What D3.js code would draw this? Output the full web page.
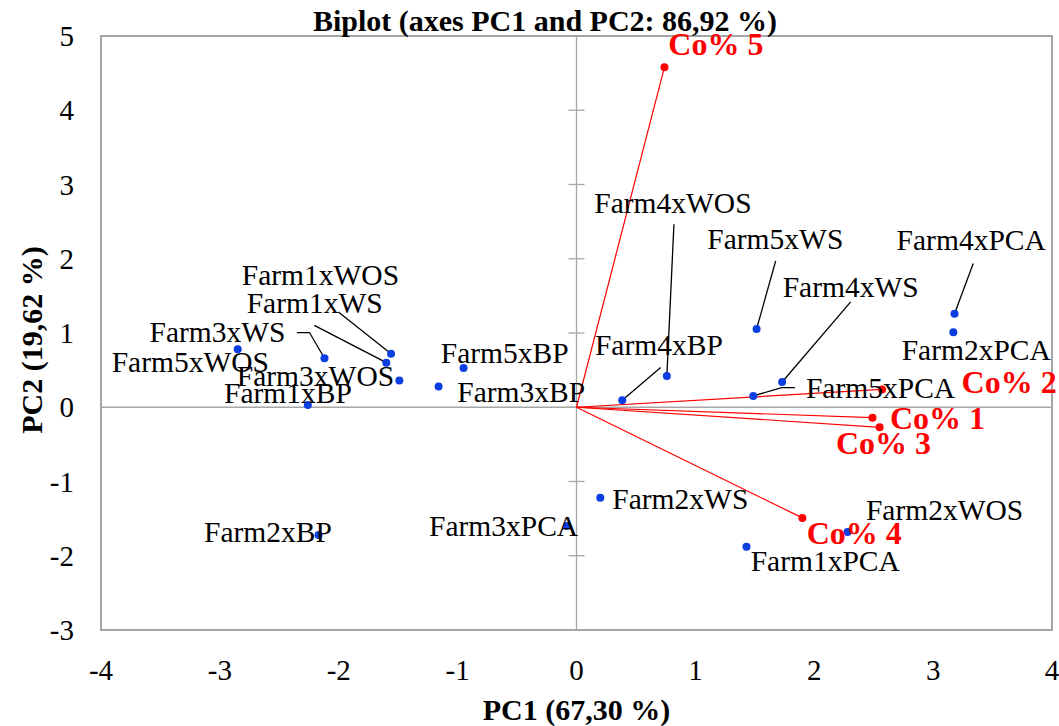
<!DOCTYPE html>
<html lang="en">
<head>
  <meta charset="UTF-8">
  <title>Biplot PC1 PC2</title>
  <script src="https://d3js.org/d3.v7.min.js"></script>
  <style>
    body { margin: 0; background: #fff; }
    svg { display: block; font-family: "Liberation Serif", "Times New Roman", serif; }
    .frame { fill: none; stroke: #a6a6a6; stroke-width: 2px; }
    .zero { stroke: #a6a6a6; stroke-width: 1.3px; }
    .tick-label { font-size: 29px; fill: #000; }
    .axis-title { font-size: 30px; font-weight: bold; fill: #000; }
    .title { font-size: 30px; font-weight: bold; fill: #000; }
    .obs-label { font-size: 29.5px; fill: #000; }
    .var-label { font-size: 32px; font-weight: bold; fill: #ff0000; }
    .leader { fill: none; stroke: #000; stroke-width: 1.3px; }
  </style>
</head>
<body>
  <svg width="1059" height="726"></svg>

  <script>
    // observaciones (scores)
    const obsNames = ["Farm5xWOS", "Farm3xWS", "Farm1xWOS", "Farm1xWS", "Farm3xWOS", "Farm1xBP",
                      "Farm3xBP", "Farm5xBP", "Farm2xBP", "Farm3xPCA", "Farm2xWS", "Farm4xBP",
                      "Farm4xWOS", "Farm5xWS", "Farm4xWS", "Farm5xPCA", "Farm4xPCA", "Farm2xPCA",
                      "Farm2xWOS", "Farm1xPCA"];
    const obsPC1 = [-2.85, -2.12, -1.56, -1.60, -1.49, -2.26, -1.16, -0.95, -2.17, -0.08, 0.20, 0.385,
                    0.76, 1.515, 1.73, 1.487, 3.18, 3.17, 2.28, 1.43];
    const obsPC2 = [0.78, 0.66, 0.72, 0.60, 0.36, 0.03, 0.28, 0.53, -1.72, -1.60, -1.22, 0.094,
                    0.42, 1.055, 0.34, 0.152, 1.26, 1.01, -1.68, -1.88];

    // variables (loadings)
    const varNames = ["Co% 1", "Co% 2", "Co% 3", "Co% 4", "Co% 5"];
    const varPC1 = [2.49, 2.57, 2.55, 1.90, 0.74];
    const varPC2 = [-0.14, 0.24, -0.27, -1.49, 4.58];

    const xTicks = [-4, -3, -2, -1, 0, 1, 2, 3, 4];
    const yTicks = [-3, -2, -1, 0, 1, 2, 3, 4, 5];

    // posicion de etiquetas (px relativo al punto) y lineas guia
    const obsLabelPos = {
      "Farm5xWOS": [-126, 22.6], "Farm3xWS": [-175, -16.3], "Farm1xWOS": [-149.3, -68.5],
      "Farm1xWS": [-139.6, -49.7], "Farm3xWOS": [-162.6, 5.7], "Farm1xBP": [-83.8, -2.1],
      "Farm3xBP": [18.7, 15.5], "Farm5xBP": [-22.8, -4.9], "Farm2xBP": [-114.5, 7.3],
      "Farm3xPCA": [-138, 10.2], "Farm2xWS": [12, 10.7], "Farm4xBP": [-27.3, -45.7],
      "Farm4xWOS": [-72.6, -163.1], "Farm5xWS": [-49.3, -80.4], "Farm4xWS": [0.5, -85.1],
      "Farm5xPCA": [52.7, 2], "Farm4xPCA": [-57.9, -63.4], "Farm2xPCA": [-51.7, 28],
      "Farm2xWOS": [18.4, -12.4], "Farm1xPCA": [4.2, 24.1]
    };
    const leaders = {
      "Farm3xWS": [[-27.6, -25.7], [-15, -25.7]],
      "Farm1xWOS": [[-52.7, -41.8]],
      "Farm1xWS": [[-72, -37.4]],
      "Farm4xBP": [[38.4, -32.7]],
      "Farm4xWOS": [[7.1, -151.8]],
      "Farm5xWS": [[19.1, -68]],
      "Farm4xWS": [[68.5, -80.1]],
      "Farm5xPCA": [[41.7, -8.4], [28.4, -8.4]],
      "Farm4xPCA": [[18.7, -50.1]]
    };
    const varLabelPos = {
      "Co% 1": [17.4, 10.9], "Co% 2": [79.6, 3.5], "Co% 3": [-43.7, 26.3],
      "Co% 4": [4.3, 25.7], "Co% 5": [3.8, -11.9]
    };

    const margin = { left: 101, right: 1052, top: 36, bottom: 630 };

    const svg = d3.select("svg");

    const x = d3.scaleLinear().domain([-4, 4]).range([margin.left, margin.right]);
    const y = d3.scaleLinear().domain([-3, 5]).range([margin.bottom, margin.top]);

    const obs = obsNames.map((n, i) => ({ name: n, pc1: obsPC1[i], pc2: obsPC2[i] }));
    const vars = varNames.map((n, i) => ({ name: n, pc1: varPC1[i], pc2: varPC2[i] }));

    // marco
    svg.append("rect")
        .attr("class", "frame")
        .attr("x", x(-4)).attr("y", y(5))
        .attr("width", x(4) - x(-4)).attr("height", y(-3) - y(5));

    // ejes en cero
    svg.append("line").attr("class", "zero")
        .attr("x1", x(-4)).attr("x2", x(4)).attr("y1", y(0)).attr("y2", y(0));
    svg.append("line").attr("class", "zero")
        .attr("x1", x(0)).attr("x2", x(0)).attr("y1", y(-3)).attr("y2", y(5));

    // marcas del eje vertical
    svg.selectAll(".ytick")
        .data(yTicks)
        .enter().append("line")
        .attr("class", "zero")
        .attr("x1", x(0) - 8).attr("x2", x(0) + 8)
        .attr("y1", d => y(d)).attr("y2", d => y(d));

    // etiquetas de ticks
    svg.selectAll(".xlab")
        .data(xTicks)
        .enter().append("text")
        .attr("class", "tick-label")
        .attr("x", d => x(d))
        .attr("y", 680)
        .attr("text-anchor", "middle")
        .text(d => d);

    svg.selectAll(".ylab")
        .data(yTicks)
        .enter().append("text")
        .attr("class", "tick-label")
        .attr("x", 74)
        .attr("y", d => y(d) + 10)
        .attr("text-anchor", "end")
        .text(d => d);

    // titulos de ejes
    svg.append("text")
        .attr("class", "axis-title")
        .attr("x", x(0))
        .attr("y", 720)
        .attr("text-anchor", "middle")
        .text("PC1 (67,30 %)");

    svg.append("text")
        .attr("class", "axis-title")
        .attr("transform", "translate(42," + 340 + ") rotate(-90)")
        .attr("text-anchor", "middle")
        .text("PC2 (19,62 %)");

    // titulo
    svg.append("text")
        .attr("class", "title")
        .attr("x", 545)
        .attr("y", 31)
        .attr("text-anchor", "middle")
        .text("Biplot (axes PC1 and PC2: 86,92 %)");

    // vectores de variables
    svg.selectAll(".vec")
        .data(vars)
        .enter().append("line")
        .attr("stroke", "#ff0000")
        .attr("stroke-width", 1.2)
        .attr("x1", x(0)).attr("y1", y(0))
        .attr("x2", d => x(d.pc1)).attr("y2", d => y(d.pc2));

    svg.selectAll(".vdot")
        .data(vars)
        .enter().append("circle")
        .attr("fill", "#ff0000")
        .attr("r", 4)
        .attr("cx", d => x(d.pc1)).attr("cy", d => y(d.pc2));

    // lineas guia
    const line = d3.line();
    svg.selectAll(".leader")
        .data(obs.filter(d => leaders[d.name]))
        .enter().append("path")
        .attr("class", "leader")
        .attr("d", d => {
          const px = x(d.pc1), py = y(d.pc2);
          const pts = leaders[d.name].map(o => [px + o[0], py + o[1]]);
          pts.push([px, py]);
          return line(pts);
        });

    // puntos de observaciones
    svg.selectAll(".odot")
        .data(obs)
        .enter().append("circle")
        .attr("fill", "#0a3ee0")
        .attr("r", 4)
        .attr("cx", d => x(d.pc1)).attr("cy", d => y(d.pc2));

    // etiquetas de observaciones
    svg.selectAll(".olab")
        .data(obs)
        .enter().append("text")
        .attr("class", "obs-label")
        .attr("x", d => x(d.pc1) + obsLabelPos[d.name][0])
        .attr("y", d => y(d.pc2) + obsLabelPos[d.name][1])
        .text(d => d.name);

    // etiquetas de variables
    svg.selectAll(".vlab")
        .data(vars)
        .enter().append("text")
        .attr("class", "var-label")
        .attr("x", d => x(d.pc1) + varLabelPos[d.name][0])
        .attr("y", d => y(d.pc2) + varLabelPos[d.name][1])
        .text(d => d.name);
  </script>
</body>
</html>
